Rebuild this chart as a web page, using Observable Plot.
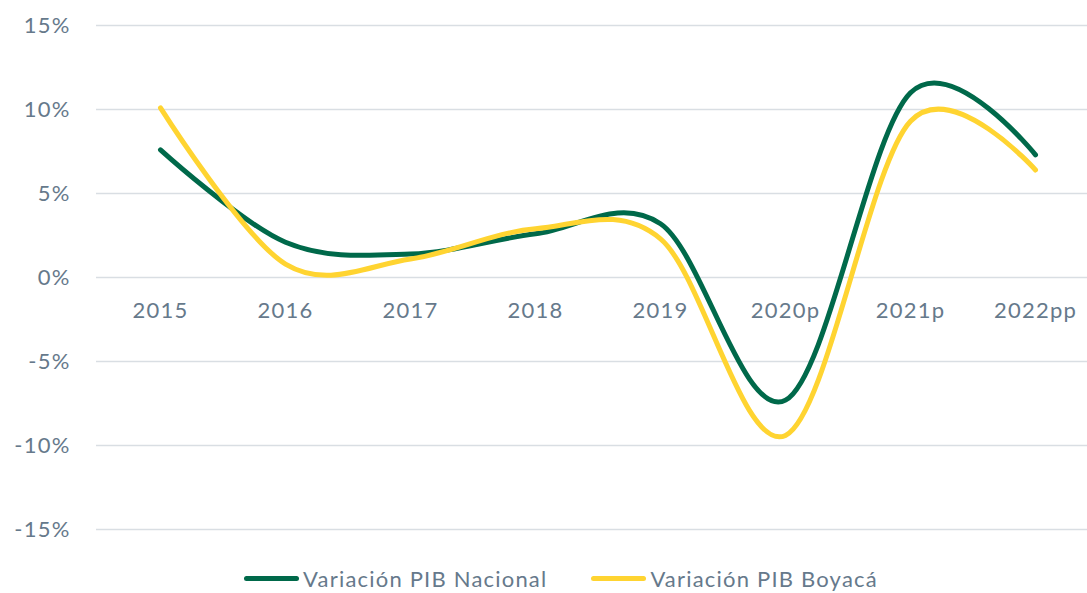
<!DOCTYPE html>
<html>
<head>
<meta charset="utf-8">
<script src="https://cdn.jsdelivr.net/npm/d3@7"></script>
<script src="https://cdn.jsdelivr.net/npm/@observablehq/plot@0.6"></script>
<style>
  html, body { margin: 0; padding: 0; background: #fff; }
  #wrap { position: relative; width: 1087px; height: 593px; font-family: Lato, "Open Sans", sans-serif; }
  #legend { position: absolute; left: 0; top: 565px; width: 1052px; padding-left: 35px; display: flex; justify-content: center; align-items: center; font-size: 22px; letter-spacing: 1.2px; color: #66798b; }
  .item { display: flex; align-items: center; margin: 0 22px; }
  .sw { width: 55px; height: 5px; border-radius: 3px; margin-right: 4px; }
  #chart svg text { letter-spacing: 1.2px; }
</style>
</head>
<body>
<div id="wrap">
  <div id="chart"></div>
  <div id="legend"></div>
</div>
<script>
const years = ["2015", "2016", "2017", "2018", "2019", "2020p", "2021p", "2022pp"];
const nacional = [7.6, 2.1, 1.4, 2.6, 3.2, -7.3, 11.0, 7.3];
const boyaca = [10.1, 0.8, 1.1, 2.9, 2.3, -9.4, 9.3, 6.4];
const yTicks = [-15, -10, -5, 0, 5, 10, 15];
const seriesNames = ["Variación PIB Nacional", "Variación PIB Boyacá"];
const colors = ["#00694a", "#ffd431"];

const rows = [];
years.forEach((y, i) => {
  rows.push({year: y, value: nacional[i], serie: seriesNames[0]});
});
years.forEach((y, i) => {
  rows.push({year: y, value: boyaca[i], serie: seriesNames[1]});
});

const textColor = "#66798b";
const chart = Plot.plot({
  width: 1087,
  height: 555,
  marginLeft: 96,
  marginRight: 0,
  marginTop: 25,
  marginBottom: 26,
  style: {fontFamily: "Lato, 'Open Sans', sans-serif", fontSize: "22px", color: textColor, background: "#fff"},
  x: {type: "point", domain: years, range: [158, 1036], padding: 0, axis: null},
  y: {domain: [-15, 15], ticks: yTicks, axis: null},
  color: {domain: seriesNames, range: colors},
  marks: [
    Plot.ruleY(yTicks, {stroke: "#d9dee3", strokeWidth: 1.5}),
    Plot.axisY({ticks: yTicks, tickSize: 0, tickPadding: 26, tickFormat: d => `${d}%`, fill: textColor, fontSize: 22, label: null}),
    Plot.text(years, {x: d => d, y: () => 0, dy: 33, fill: textColor, fontSize: 22}),
    Plot.line(rows, {x: "year", y: "value", z: "serie", stroke: "serie", strokeWidth: 5, curve: "cardinal", tension: 0, strokeLinecap: "round", strokeLinejoin: "round"})
  ]
});
document.getElementById("chart").appendChild(chart);

const legend = document.getElementById("legend");
seriesNames.forEach((name, i) => {
  const item = document.createElement("div");
  item.className = "item";
  const sw = document.createElement("div");
  sw.className = "sw";
  sw.style.background = colors[i];
  const t = document.createElement("span");
  t.textContent = name;
  item.appendChild(sw);
  item.appendChild(t);
  legend.appendChild(item);
});
</script>
</body>
</html>
